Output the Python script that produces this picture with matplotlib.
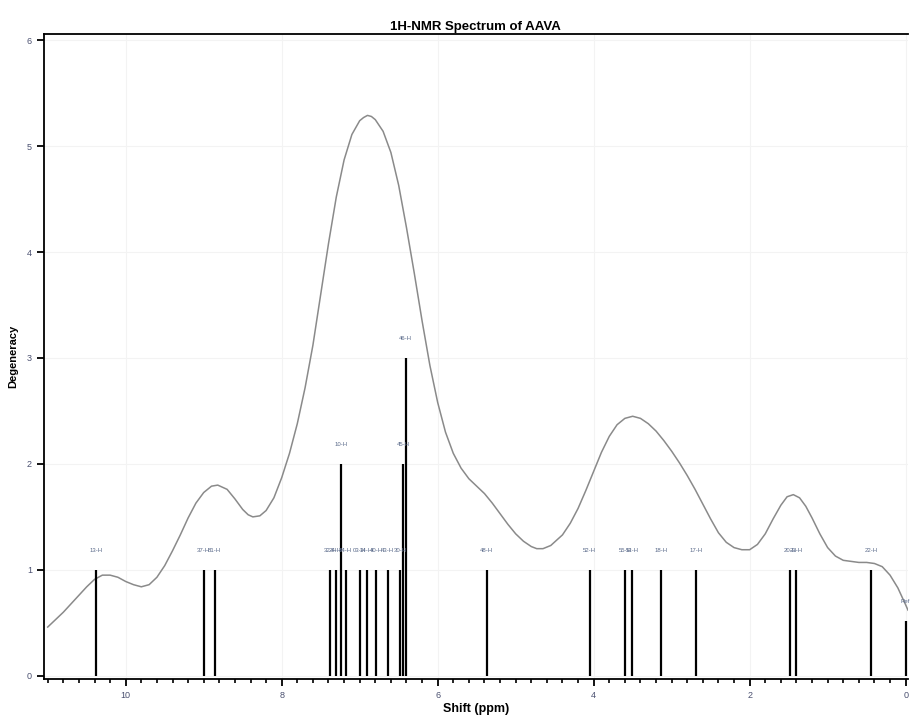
import matplotlib
matplotlib.use("Agg")
import matplotlib.pyplot as plt
from matplotlib.ticker import MultipleLocator

# stick spectrum (ppm, degeneracy, atom label)
shifts = [10.38, 9.00, 8.86, 7.38, 7.31, 7.24, 7.18, 7.00, 6.91, 6.79, 6.64, 6.48,
          6.44, 6.41, 5.37, 4.05, 3.60, 3.51, 3.14, 2.69, 1.48, 1.40, 0.44, 0.00]
degeneracy = [1, 1, 1, 1, 1, 2, 1, 1, 1, 1, 1, 1,
              2, 3, 1, 1, 1, 1, 1, 1, 1, 1, 1, 0.52]
atoms = ["13-H", "37-H", "81-H", "32-H", "24-H", "10-H", "84-H", "03-H", "34-H", "40-H",
         "43-H", "30-H", "45-H", "46-H", "48-H", "52-H", "55-H", "53-H", "18-H", "17-H",
         "20-H", "21-H", "22-H", "Ref"]

# broadened envelope
env_ppm = [11.0, 10.9, 10.8, 10.7, 10.6, 10.5, 10.4, 10.3, 10.2, 10.1, 10.0, 9.9, 9.8,
           9.7, 9.6, 9.5, 9.4, 9.3, 9.2, 9.1, 9.0, 8.9, 8.82, 8.7, 8.6, 8.5, 8.43,
           8.37, 8.28, 8.2, 8.1, 8.0, 7.9, 7.8, 7.7, 7.6, 7.5, 7.4, 7.3, 7.2, 7.1,
           7.0, 6.95, 6.9, 6.85, 6.8, 6.7, 6.6, 6.5, 6.4, 6.3, 6.2, 6.1, 6.0, 5.9,
           5.8, 5.7, 5.6, 5.5, 5.4, 5.3, 5.2, 5.1, 5.0, 4.9, 4.8, 4.73, 4.65, 4.55,
           4.4, 4.3, 4.2, 4.1, 4.0, 3.9, 3.8, 3.7, 3.6, 3.5, 3.4, 3.3, 3.2, 3.1,
           3.0, 2.9, 2.8, 2.7, 2.6, 2.5, 2.4, 2.3, 2.2, 2.1, 2.0, 1.9, 1.8, 1.7,
           1.6, 1.52, 1.44, 1.36, 1.28, 1.2, 1.1, 1.0, 0.9, 0.8, 0.7, 0.6, 0.5, 0.4,
           0.3, 0.2, 0.1, 0.0, -0.03]
env_val = [0.46, 0.53, 0.60, 0.68, 0.76, 0.84, 0.91, 0.95, 0.95, 0.93, 0.89, 0.86, 0.84,
           0.86, 0.93, 1.04, 1.18, 1.33, 1.49, 1.63, 1.73, 1.79, 1.80, 1.76, 1.67, 1.57, 1.52,
           1.50, 1.51, 1.56, 1.68, 1.87, 2.10, 2.38, 2.72, 3.12, 3.60, 4.08, 4.52, 4.87, 5.11,
           5.24, 5.27, 5.29, 5.28, 5.25, 5.14, 4.94, 4.63, 4.23, 3.80, 3.35, 2.93, 2.58, 2.30,
           2.10, 1.96, 1.86, 1.79, 1.72, 1.63, 1.53, 1.43, 1.34, 1.27, 1.22, 1.20, 1.20, 1.23,
           1.33, 1.44, 1.58, 1.75, 1.93, 2.11, 2.26, 2.37, 2.43, 2.45, 2.43, 2.38, 2.31, 2.22,
           2.12, 2.01, 1.89, 1.76, 1.62, 1.48, 1.35, 1.26, 1.21, 1.19, 1.19, 1.24, 1.34, 1.48,
           1.61, 1.69, 1.71, 1.68, 1.60, 1.49, 1.34, 1.21, 1.13, 1.09, 1.08, 1.07, 1.07, 1.06,
           1.03, 0.95, 0.83, 0.67, 0.62]

plt.rcParams['font.family'] = ['Liberation Sans Narrow', 'Liberation Sans', 'DejaVu Sans']

fig = plt.figure(figsize=(9.13, 7.2), dpi=100)
ax = fig.add_axes([0.048, 0.057, 0.9465, 0.896])

ax.plot(env_ppm, env_val, color='#8a8a8a', lw=1.1, zorder=2, solid_joinstyle='round')
ax.vlines(shifts, 0, degeneracy, color='black', lw=1.6, zorder=3)
for s, d, a in zip(shifts, degeneracy, atoms):
    ax.text(s, d + 0.18, a, ha='center', va='center', fontsize=4.3, color='#5a6a8a')

ax.set_xlim(11.05, -0.03)
ax.set_ylim(-0.03, 6.06)
ax.xaxis.set_major_locator(MultipleLocator(2))
ax.xaxis.set_minor_locator(MultipleLocator(0.2))
ax.yaxis.set_major_locator(MultipleLocator(1))
ax.tick_params(axis='both', which='major', length=5, width=1.3, labelsize=6.5,
               labelcolor='#4a5070', direction='out')
ax.tick_params(axis='x', which='minor', length=3, width=1.2, direction='out')
ax.grid(True, which='major', color='#f3f3f3', lw=0.8)
ax.set_axisbelow(True)

for side in ['left', 'bottom', 'top']:
    ax.spines[side].set_linewidth(1.3)
ax.spines['right'].set_visible(False)

ax.set_title("1H-NMR Spectrum of AAVA", fontsize=9.5, fontweight='bold', pad=3)
ax.set_xlabel("Shift (ppm)", fontsize=9, fontweight='bold', labelpad=2)
ax.set_ylabel("Degeneracy", fontsize=8, fontweight='bold', labelpad=6)

fig.savefig("out.png", dpi=100)
